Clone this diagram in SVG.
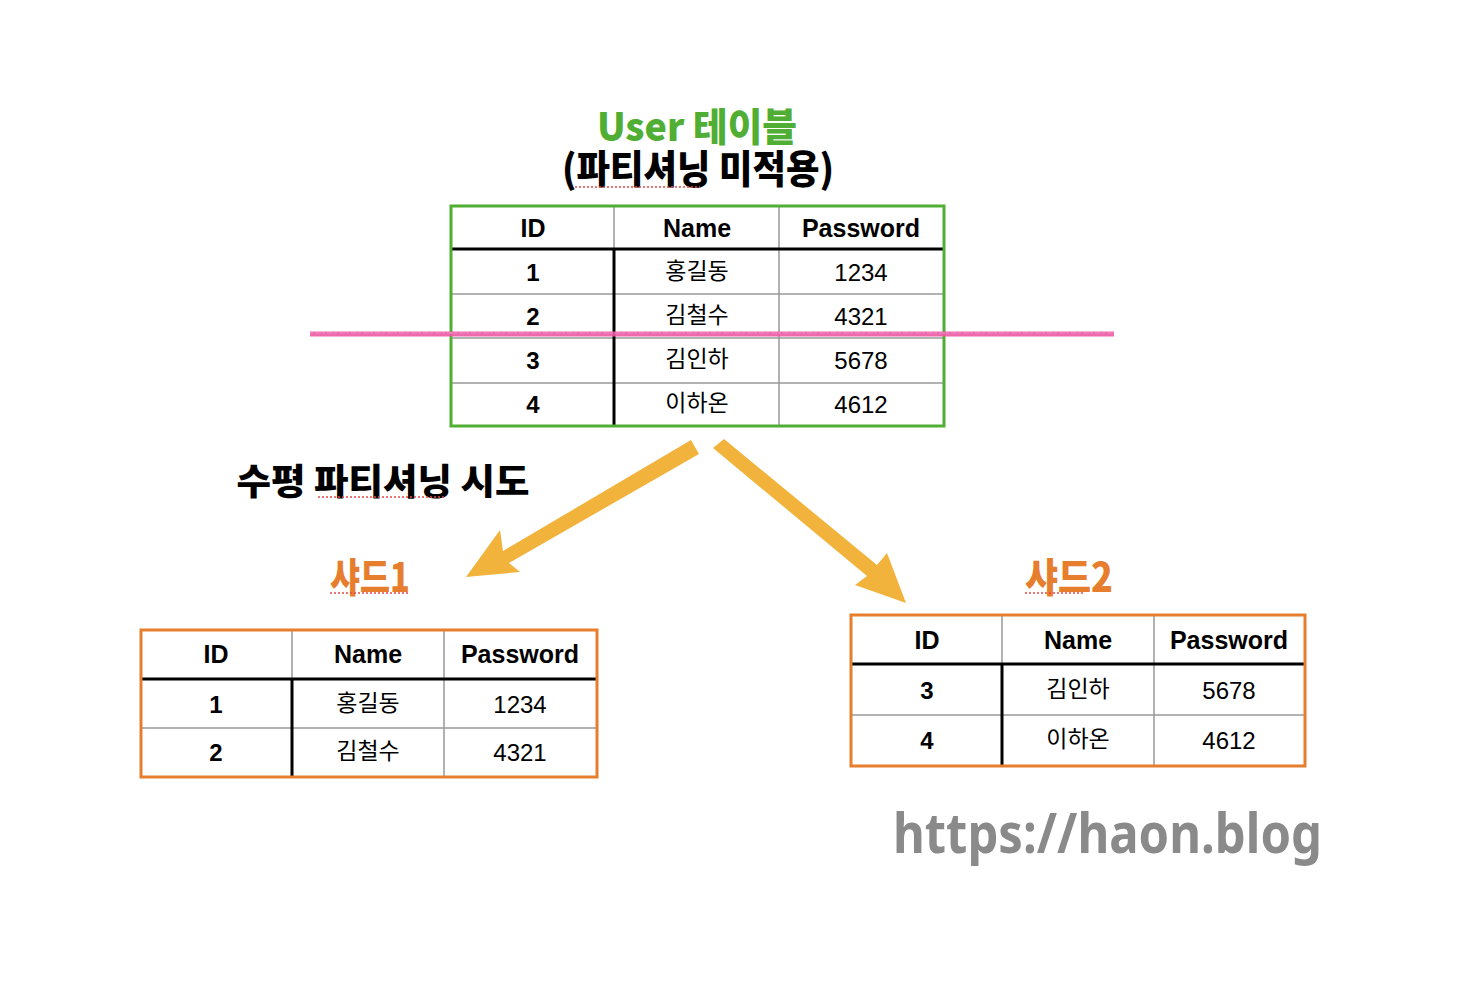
<svg xmlns="http://www.w3.org/2000/svg" width="1466" height="1002" viewBox="0 0 1466 1002">
<style>
.hd{font-family:"Liberation Sans",Arial,sans-serif;font-weight:bold;font-size:25px;text-anchor:middle;fill:#000}
.id{font-family:"Liberation Sans",Arial,sans-serif;font-weight:bold;font-size:24px;text-anchor:middle;fill:#000}
.num{font-family:"Liberation Sans",Arial,sans-serif;font-size:24px;text-anchor:middle;fill:#000}
.ko{font-family:"Noto Sans CJK KR","Noto Sans",sans-serif;font-size:23px;text-anchor:middle;fill:#000}
.ttl{font-family:"Noto Sans CJK KR","Noto Sans",sans-serif;font-weight:900;text-anchor:middle}
.thick{stroke:#000;stroke-width:3}
.thin{stroke:#999;stroke-width:1.5}
.arrow{fill:#f2b33d}
.sp{stroke:#e64a4a;stroke-width:1.5;stroke-dasharray:2 2;fill:none}
</style>
<rect width="1466" height="1002" fill="#fff"/>

<g id="title">
<text class="ttl" transform="translate(697,141) scale(1,1.25)" x="0" y="0" font-size="31" fill="#4fae33" textLength="200" lengthAdjust="spacingAndGlyphs">User 테이블</text>
<text class="ttl" transform="translate(698,183) scale(1,1.25)" x="0" y="0" font-size="31" fill="#000" textLength="272" lengthAdjust="spacingAndGlyphs">(파티셔닝 미적용)</text>
<line class="sp" x1="575" y1="187" x2="700" y2="187"/>
</g>

<g id="user-table">
<rect x="451" y="206" width="493" height="220" fill="#fff"/>
<line class="thin" x1="451" y1="294" x2="944" y2="294"/>
<line class="thin" x1="451" y1="383" x2="944" y2="383"/>
<line class="thin" x1="451" y1="338" x2="944" y2="338"/>
<line class="thin" x1="779" y1="206" x2="779" y2="426"/>
<line class="thin" x1="614" y1="206" x2="614" y2="249"/>
<line class="thick" x1="614" y1="249" x2="614" y2="426"/>
<line class="thick" x1="451" y1="249" x2="944" y2="249"/>
<rect x="451" y="206" width="493" height="220" fill="none" stroke="#4fae33" stroke-width="3"/>
<text class="hd" x="533" y="237">ID</text>
<text class="hd" x="697" y="237">Name</text>
<text class="hd" x="861" y="237">Password</text>
<text class="id" x="533" y="281">1</text>
<text class="ko" x="697" y="279">홍길동</text>
<text class="num" x="861" y="281">1234</text>
<text class="id" x="533" y="325">2</text>
<text class="ko" x="697" y="323">김철수</text>
<text class="num" x="861" y="325">4321</text>
<text class="id" x="533" y="369">3</text>
<text class="ko" x="697" y="367">김인하</text>
<text class="num" x="861" y="369">5678</text>
<text class="id" x="533" y="413">4</text>
<text class="ko" x="697" y="411">이하온</text>
<text class="num" x="861" y="413">4612</text>
</g>

<g id="cut-line">
<line x1="310" y1="334" x2="1114" y2="334" stroke="#ec5aa5" stroke-width="5" opacity="0.9"/>
<line x1="310" y1="333" x2="1114" y2="333" stroke="#f07ab8" stroke-width="2" stroke-dasharray="3 2 6 1"/>
</g>

<g id="caption">
<text class="ttl" x="383" y="495" font-size="36" fill="#000" textLength="293" lengthAdjust="spacingAndGlyphs">수평 파티셔닝 시도</text>
<line class="sp" x1="318" y1="497" x2="445" y2="497"/>
</g>

<g id="connectors">
<polygon class="arrow" points="691,440 699,454 509,563 520,572 466,577 500,530 503,551"/>
<polygon class="arrow" points="713,448 724,439 877,565 887,553 906,603 855,585 867,576"/>
</g>

<g id="shard1-label">
<text class="ttl" x="370" y="592" font-size="40" fill="#e67e2e" textLength="80" lengthAdjust="spacingAndGlyphs">샤드1</text>
<line class="sp" x1="330" y1="593" x2="410" y2="593"/>
</g>

<g id="shard1-table">
<rect x="141" y="630" width="456" height="147" fill="#fff"/>
<line class="thin" x1="141" y1="728" x2="597" y2="728"/>
<line class="thin" x1="444" y1="630" x2="444" y2="777"/>
<line class="thin" x1="292" y1="630" x2="292" y2="679"/>
<line class="thick" x1="292" y1="679" x2="292" y2="777"/>
<line class="thick" x1="141" y1="679" x2="597" y2="679"/>
<rect x="141" y="630" width="456" height="147" fill="none" stroke="#e67e2e" stroke-width="3"/>
<text class="hd" x="216" y="663">ID</text>
<text class="hd" x="368" y="663">Name</text>
<text class="hd" x="520" y="663">Password</text>
<text class="id" x="216" y="713">1</text>
<text class="ko" x="368" y="711">홍길동</text>
<text class="num" x="520" y="713">1234</text>
<text class="id" x="216" y="761">2</text>
<text class="ko" x="368" y="759">김철수</text>
<text class="num" x="520" y="761">4321</text>
</g>

<g id="shard2-label">
<text class="ttl" x="1069" y="592" font-size="40" fill="#e67e2e" textLength="88" lengthAdjust="spacingAndGlyphs">샤드2</text>
<line class="sp" x1="1025" y1="593" x2="1085" y2="593"/>
</g>

<g id="shard2-table">
<rect x="851" y="615" width="454" height="151" fill="#fff"/>
<line class="thin" x1="851" y1="715" x2="1305" y2="715"/>
<line class="thin" x1="1154" y1="615" x2="1154" y2="766"/>
<line class="thin" x1="1002" y1="615" x2="1002" y2="664"/>
<line class="thick" x1="1002" y1="664" x2="1002" y2="766"/>
<line class="thick" x1="851" y1="664" x2="1305" y2="664"/>
<rect x="851" y="615" width="454" height="151" fill="none" stroke="#e67e2e" stroke-width="3"/>
<text class="hd" x="927" y="649">ID</text>
<text class="hd" x="1078" y="649">Name</text>
<text class="hd" x="1229" y="649">Password</text>
<text class="id" x="927" y="699">3</text>
<text class="ko" x="1078" y="697">김인하</text>
<text class="num" x="1229" y="699">5678</text>
<text class="id" x="927" y="749">4</text>
<text class="ko" x="1078" y="747">이하온</text>
<text class="num" x="1229" y="749">4612</text>
</g>

<g id="watermark">
<text x="893" y="853" font-family="'Noto Sans','Liberation Sans',sans-serif" font-weight="bold" font-size="56" fill="#8a8a8a" textLength="429" lengthAdjust="spacingAndGlyphs">https://haon.blog</text>
</g>
</svg>
